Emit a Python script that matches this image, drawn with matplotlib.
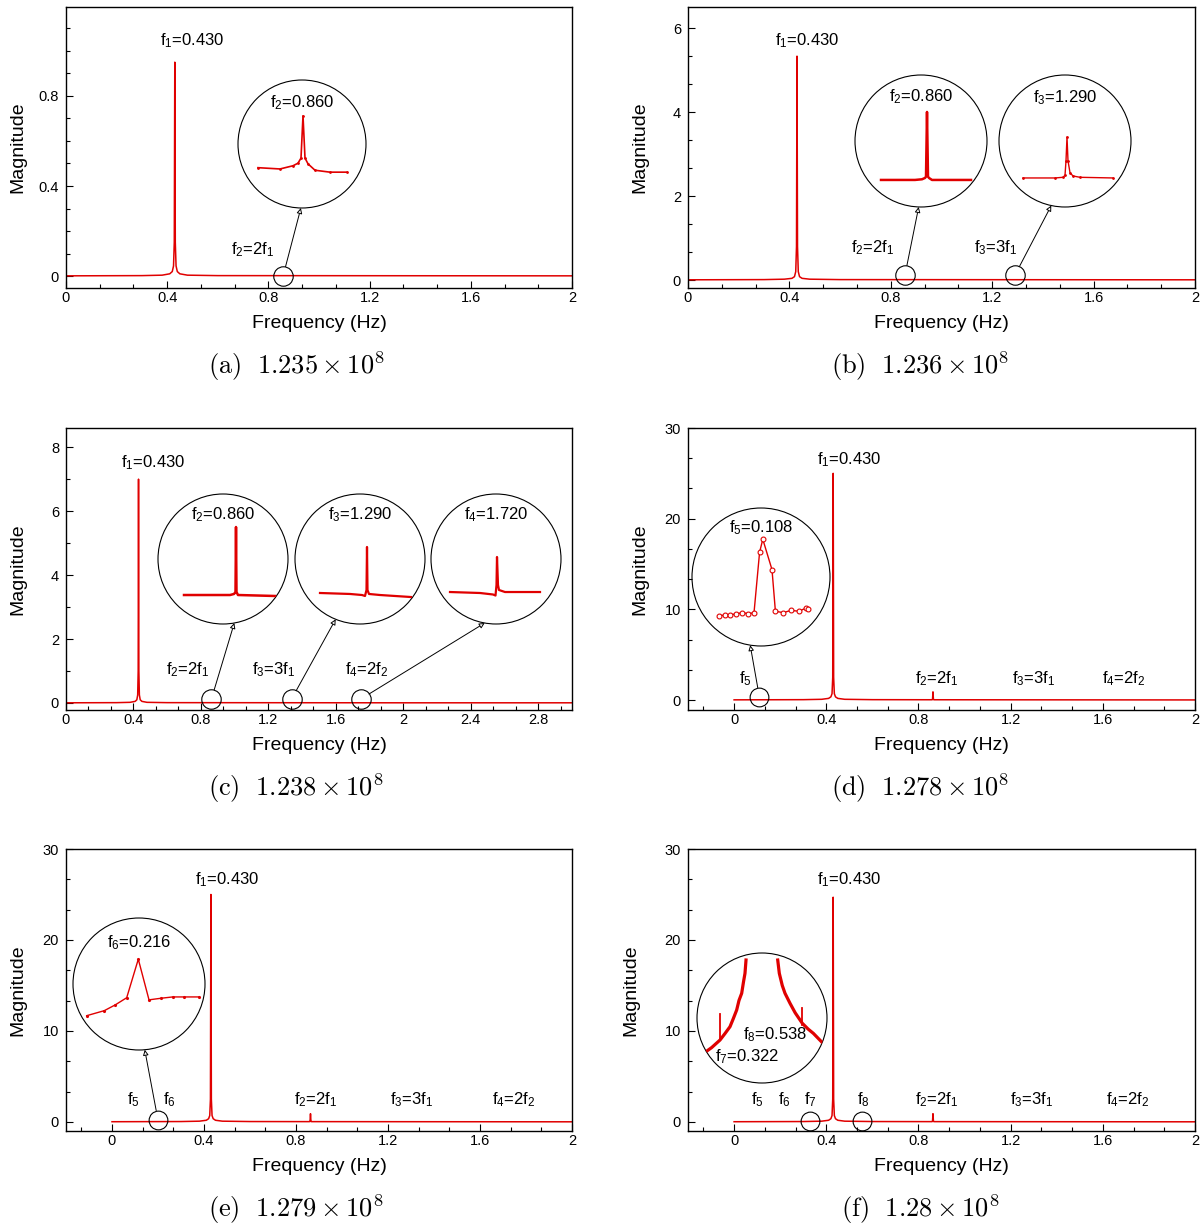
import numpy as np
import matplotlib
matplotlib.use("Agg")
import matplotlib.pyplot as plt
from matplotlib.patches import Circle, ConnectionPatch
from matplotlib.ticker import MultipleLocator, AutoMinorLocator, FuncFormatter

plt.rcParams["font.family"] = ["Liberation Sans", "DejaVu Sans"]
plt.rcParams["mathtext.fontset"] = "custom"
plt.rcParams["mathtext.rm"] = "Liberation Sans"
plt.rcParams["mathtext.it"] = "Liberation Sans:italic"
plt.rcParams["mathtext.bf"] = "Liberation Sans:bold"

RED = "#e00000"
W, H = 1203, 1226

# ---- main spectra -------------------------------------------------------
freq_abc = [0.0, 0.30, 0.38, 0.41, 0.42, 0.425, 0.428, 0.430, 0.432, 0.435, 0.44, 0.45, 0.48, 0.60, 2.0, 3.0]
mag_a = [0.001, 0.002, 0.004, 0.010, 0.020, 0.045, 0.15, 0.95, 0.15, 0.045, 0.020, 0.010, 0.004, 0.002, 0.001, 0.001]
mag_b = [0.005, 0.010, 0.020, 0.040, 0.080, 0.20, 0.80, 5.33, 0.80, 0.20, 0.080, 0.040, 0.020, 0.010, 0.005, 0.005]
mag_c = [0.005, 0.010, 0.020, 0.050, 0.100, 0.25, 1.00, 7.00, 1.00, 0.25, 0.100, 0.050, 0.020, 0.010, 0.005, 0.005]

freq_def = [0.0, 0.30, 0.38, 0.41, 0.42, 0.425, 0.428, 0.430, 0.432, 0.435, 0.44, 0.45, 0.48, 0.60,
            0.858, 0.861, 0.863, 0.865, 0.868, 2.0]
mag_d = [0.02, 0.04, 0.08, 0.18, 0.35, 0.7, 2.5, 25.0, 2.5, 0.7, 0.35, 0.18, 0.08, 0.04, 0.03, 0.05, 0.9, 0.05, 0.03, 0.01]
mag_e = [0.02, 0.04, 0.08, 0.18, 0.35, 0.7, 2.5, 25.0, 2.5, 0.7, 0.35, 0.18, 0.08, 0.04, 0.03, 0.05, 0.9, 0.05, 0.03, 0.01]
mag_f = [0.02, 0.04, 0.08, 0.18, 0.35, 0.7, 2.5, 24.7, 2.5, 0.7, 0.35, 0.18, 0.08, 0.04, 0.03, 0.05, 0.9, 0.05, 0.03, 0.01]

# ---- zoomed spectra shown in the round insets ---------------------------
a2_f = [0.815, 0.837, 0.850, 0.855, 0.858, 0.860, 0.862, 0.865, 0.872, 0.887, 0.904]
a2_m = [0.0063, 0.0061, 0.0066, 0.0070, 0.0078, 0.0144, 0.0078, 0.0069, 0.0059, 0.0056, 0.0056]

b2_f = [0.814, 0.848, 0.855, 0.858, 0.859, 0.860, 0.861, 0.862, 0.865, 0.904]
b2_m = [0.041, 0.041, 0.042, 0.044, 0.046, 0.144, 0.046, 0.044, 0.041, 0.041]
b3_f = [1.246, 1.278, 1.286, 1.288, 1.289, 1.290, 1.291, 1.293, 1.296, 1.303, 1.336]
b3_m = [0.044, 0.044, 0.045, 0.048, 0.070, 0.106, 0.070, 0.052, 0.047, 0.045, 0.044]

c2_f = [0.808, 0.854, 0.858, 0.8595, 0.860, 0.8605, 0.862, 0.899]
c2_m = [0.0446, 0.0446, 0.0462, 0.0492, 0.1492, 0.0492, 0.0446, 0.0431]
c3_f = [1.243, 1.273, 1.285, 1.288, 1.2895, 1.290, 1.2905, 1.292, 1.303, 1.334]
c3_m = [0.0477, 0.0462, 0.0446, 0.0431, 0.0523, 0.1185, 0.0523, 0.0462, 0.0446, 0.0415]
c4_f = [1.673, 1.703, 1.716, 1.7185, 1.7195, 1.720, 1.721, 1.722, 1.728, 1.763]
c4_m = [0.0492, 0.0477, 0.0454, 0.0438, 0.060, 0.1031, 0.060, 0.0523, 0.0492, 0.0492]

d5_f = [0.0860, 0.0889, 0.0918, 0.0946, 0.0976, 0.1006, 0.1036, 0.1064, 0.1080, 0.1126,
        0.1143, 0.1183, 0.1221, 0.1260, 0.1296, 0.1308]
d5_m = [0.132, 0.134, 0.136, 0.139, 0.145, 0.141, 0.144, 0.408, 0.464, 0.332,
        0.151, 0.145, 0.155, 0.151, 0.165, 0.160]

e6_f = [0.1644, 0.1820, 0.1930, 0.2044, 0.2160, 0.2267, 0.2387, 0.2504, 0.2620, 0.2764]
e6_m = [0.130, 0.149, 0.171, 0.198, 0.344, 0.190, 0.196, 0.201, 0.201, 0.201]

f_left_f = [0.2885, 0.300, 0.322, 0.335, 0.3483, 0.357, 0.3659, 0.372, 0.3791, 0.384, 0.3878, 0.3905]
f_left_m = [0.497, 0.545, 0.661, 0.760, 0.866, 0.990, 1.123, 1.270, 1.380, 1.560, 1.687, 1.892]
f_right_f = [0.4740, 0.4782, 0.4860, 0.4932, 0.5064, 0.520, 0.5388, 0.5540, 0.5678, 0.5899]
f_right_m = [1.892, 1.687, 1.500, 1.380, 1.226, 1.080, 0.918, 0.830, 0.764, 0.631]
f_spike_f = [0.322, 0.538]
f_spike_lo = [0.661, 0.900]
f_spike_hi = [1.061, 1.154]

fig = plt.figure(figsize=(W / 100, H / 100), dpi=100)


def axes_px(l, t, r, b):
    return fig.add_axes([l / W, 1 - b / H, (r - l) / W, (b - t) / H])


def fmt(v, pos):
    return f"{round(v, 6) + 0:g}"


def main_axes(box, freq, mag, xlim, ylim, ystep, yminor, ylab_x):
    ax = axes_px(*box)
    ax.plot(freq, mag, color=RED, lw=1.1)
    ax.set_xlim(xlim)
    ax.set_ylim(ylim)
    ax.xaxis.set_major_locator(MultipleLocator(0.4))
    ax.xaxis.set_minor_locator(AutoMinorLocator(3))
    ax.yaxis.set_major_locator(MultipleLocator(ystep))
    ax.yaxis.set_minor_locator(AutoMinorLocator(yminor))
    ax.xaxis.set_major_formatter(FuncFormatter(fmt))
    ax.yaxis.set_major_formatter(FuncFormatter(fmt))
    ax.tick_params(which="both", direction="in", top=False, right=False, width=0.8, labelsize=10.5)
    ax.tick_params(which="major", length=5)
    ax.tick_params(which="minor", length=3)
    ax.tick_params(axis="x", pad=2.5)
    ax.tick_params(axis="y", pad=5)
    ax.set_xlabel("Frequency (Hz)", fontsize=14)
    ax.set_ylabel("Magnitude", fontsize=14)
    ax.xaxis.set_label_coords(0.5, -0.097)
    ax.yaxis.set_label_coords(ylab_x, 0.5)
    for s in ax.spines.values():
        s.set_linewidth(1.0)
    return ax


def inset(cx, cy, r, xlim, ylim, label, label_dy):
    iax = fig.add_axes([(cx - r) / W, 1 - (cy + r) / H, 2 * r / W, 2 * r / H])
    iax.set_xlim(xlim)
    iax.set_ylim(ylim)
    iax.axis("off")
    ring = Circle((0.5, 0.5), 0.5, transform=iax.transAxes, fill=False, ec="k", lw=0.8, clip_on=False)
    iax.add_patch(ring)
    if label:
        iax.text(0.5, 0.5 + label_dy / (2 * r), label, transform=iax.transAxes,
                 ha="center", va="center", fontsize=12)
    return iax, ring


def clipped(iax, ring, *args, **kw):
    for ln in iax.plot(*args, **kw):
        ln.set_clip_path(ring)


def mark(ax, fx, fy, ms=14):
    ax.plot([fx], [fy], "o", ms=ms, mfc="none", mec="k", mew=0.8, clip_on=False)


def link(ax, fx, fy, iax, ang, shrink=7):
    th = np.deg2rad(ang)
    con = ConnectionPatch(xyA=(fx, fy), coordsA=ax.transData,
                          xyB=(0.5 + 0.5 * np.cos(th), 0.5 + 0.5 * np.sin(th)), coordsB=iax.transAxes,
                          arrowstyle="-|>", shrinkA=shrink, shrinkB=0, mutation_scale=8,
                          fc="white", ec="k", lw=0.7)
    fig.add_artist(con)


def label(ax, x, y, s):
    ax.text(x, y, s, ha="center", va="center", fontsize=12)


def caption(x, y, s):
    fig.text(x / W, 1 - y / H, s, ha="center", va="center", fontsize=19, math_fontfamily="cm")


# ---- (a) -----------------------------------------------------------------
ax = main_axes((66, 7, 572, 288), freq_abc, mag_a, (0, 2), (-0.053, 1.195), 0.4, 4, -0.079)
label(ax, 0.498, 1.044, "f$_1$=0.430")
label(ax, 0.739, 0.116, "f$_2$=2f$_1$")
mark(ax, 0.858, 0.0)
iax, ring = inset(302, 144, 64, (0.795, 0.923), (0, 0.02), "f$_2$=0.860", 41)
clipped(iax, ring, a2_f, a2_m, color=RED, lw=1.2, marker=".", ms=2)
link(ax, 0.858, 0.0, iax, -91)
caption(296, 366, r"$\mathrm{(a)}\ \ 1.235\times10^{8}$")

# ---- (b) -----------------------------------------------------------------
ax = main_axes((688, 7, 1195, 288), freq_abc, mag_b, (0, 2), (-0.19, 6.5), 2, 3, -0.079)
label(ax, 0.469, 5.69, "f$_1$=0.430")
label(ax, 0.73, 0.76, "f$_2$=2f$_1$")
label(ax, 1.215, 0.76, "f$_3$=3f$_1$")
mark(ax, 0.856, 0.12)
mark(ax, 1.29, 0.12)
iax, ring = inset(921, 141, 66, (0.788, 0.920), (0, 0.2), "f$_2$=0.860", 44)
clipped(iax, ring, b2_f, b2_m, color=RED, lw=1.8)
link(ax, 0.856, 0.12, iax, -92)
iax, ring = inset(1065, 141, 66, (1.222, 1.354), (0, 0.2), "f$_3$=1.290", 43)
clipped(iax, ring, b3_f, b3_m, color=RED, lw=1.0, marker=".", ms=2)
link(ax, 1.29, 0.12, iax, -102)
caption(920, 366, r"$\mathrm{(b)}\ \ 1.236\times10^{8}$")

# ---- (c) -----------------------------------------------------------------
ax = main_axes((66, 428, 572, 710), freq_abc, mag_c, (0, 3), (-0.22, 8.6), 2, 2, -0.079)
label(ax, 0.516, 7.53, "f$_1$=0.430")
label(ax, 0.72, 1.03, "f$_2$=2f$_1$")
label(ax, 1.23, 1.03, "f$_3$=3f$_1$")
label(ax, 1.78, 1.03, "f$_4$=2f$_2$")
for fx in [0.862, 1.337, 1.747]:
    mark(ax, fx, 0.12)
iax, ring = inset(223, 559, 65, (0.782, 0.912), (0, 0.2), "f$_2$=0.860", 44)
clipped(iax, ring, c2_f, c2_m, color=RED, lw=1.8)
link(ax, 0.862, 0.12, iax, -80)
iax, ring = inset(360, 559, 65, (1.218, 1.348), (0, 0.2), "f$_3$=1.290", 44)
clipped(iax, ring, c3_f, c3_m, color=RED, lw=1.6)
link(ax, 1.337, 0.12, iax, -112)
iax, ring = inset(496, 559, 65, (1.654, 1.784), (0, 0.2), "f$_4$=1.720", 44)
clipped(iax, ring, c4_f, c4_m, color=RED, lw=1.6)
link(ax, 1.747, 0.12, iax, -100)
caption(296, 788, r"$\mathrm{(c)}\ \ 1.238\times10^{8}$")

# ---- (d) -----------------------------------------------------------------
ax = main_axes((688, 428, 1195, 710), freq_def, mag_d, (-0.2, 2), (-1.1, 30), 10, 3, -0.079)
label(ax, 0.50, 26.5, "f$_1$=0.430")
label(ax, 0.048, 2.4, "f$_5$")
label(ax, 0.878, 2.4, "f$_2$=2f$_1$")
label(ax, 1.30, 2.4, "f$_3$=3f$_1$")
label(ax, 1.69, 2.4, "f$_4$=2f$_2$")
mark(ax, 0.11, 0.3, ms=13.5)
iax, ring = inset(761, 577, 69, (0.0726, 0.1416), (0, 0.6), "f$_5$=0.108", 49)
clipped(iax, ring, d5_f, d5_m, color=RED, lw=1.0, marker="o", ms=3.5, mfc="white", mew=0.8)
link(ax, 0.11, 0.3, iax, -99)
caption(920, 788, r"$\mathrm{(d)}\ \ 1.278\times10^{8}$")

# ---- (e) -----------------------------------------------------------------
ax = main_axes((66, 849, 572, 1131), freq_def, mag_e, (-0.2, 2), (-1.0, 30), 10, 3, -0.079)
label(ax, 0.50, 26.6, "f$_1$=0.430")
label(ax, 0.095, 2.4, "f$_5$")
label(ax, 0.248, 2.4, "f$_6$")
label(ax, 0.884, 2.4, "f$_2$=2f$_1$")
label(ax, 1.305, 2.4, "f$_3$=3f$_1$")
label(ax, 1.745, 2.4, "f$_4$=2f$_2$")
mark(ax, 0.2, 0.2, ms=13.5)
iax, ring = inset(139, 984, 66, (0.1507, 0.2827), (0, 0.5), "f$_6$=0.216", 41)
clipped(iax, ring, e6_f, e6_m, color=RED, lw=1.0, marker=".", ms=2.5)
link(ax, 0.2, 0.2, iax, -85)
caption(296, 1209, r"$\mathrm{(e)}\ \ 1.279\times10^{8}$")

# ---- (f) -----------------------------------------------------------------
ax = main_axes((688, 849, 1195, 1131), freq_def, mag_f, (-0.2, 2), (-1.0, 30), 10, 3, -0.095)
label(ax, 0.50, 26.6, "f$_1$=0.430")
for x, s in zip([0.10, 0.22, 0.33, 0.56], ["f$_5$", "f$_6$", "f$_7$", "f$_8$"]):
    label(ax, x, 2.4, s)
label(ax, 0.88, 2.4, "f$_2$=2f$_1$")
label(ax, 1.29, 2.4, "f$_3$=3f$_1$")
label(ax, 1.71, 2.4, "f$_4$=2f$_2$")
mark(ax, 0.33, 0.1, ms=13.5)
mark(ax, 0.556, 0.1, ms=13.5)
iax, ring = inset(762, 1018, 65, (0.2614, 0.6038), (0, 2.0), None, 0)
clipped(iax, ring, f_left_f, f_left_m, color=RED, lw=2.3)
clipped(iax, ring, f_right_f, f_right_m, color=RED, lw=2.3)
for fx, lo, hi in zip(f_spike_f, f_spike_lo, f_spike_hi):
    clipped(iax, ring, [fx, fx], [lo, hi], color=RED, lw=1.3)
iax.text(0.6, 0.369, "f$_8$=0.538", transform=iax.transAxes, ha="center", va="center", fontsize=12)
iax.text(0.385, 0.20, "f$_7$=0.322", transform=iax.transAxes, ha="center", va="center", fontsize=12)
caption(920, 1209, r"$\mathrm{(f)}\ \ 1.28\times10^{8}$")

fig.savefig("out.png", dpi=100)
